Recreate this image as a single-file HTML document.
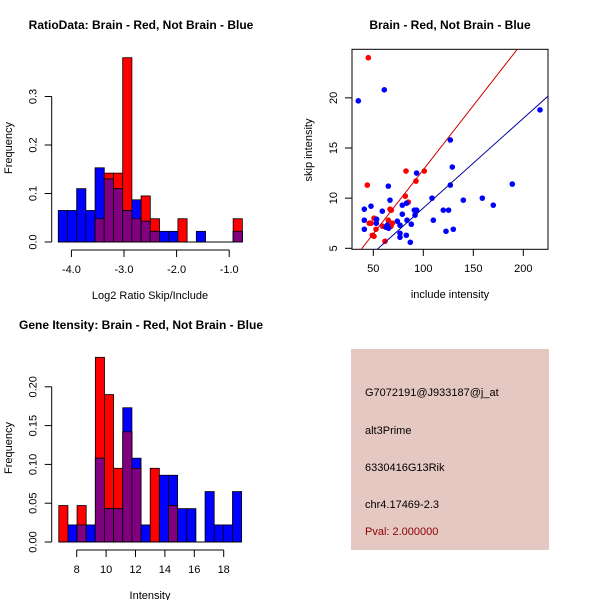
<!DOCTYPE html>
<html><head><meta charset="utf-8"><style>
body{margin:0;background:#fff}
svg{display:block;font-family:"Liberation Sans",sans-serif}
</style></head><body>
<svg id="c" width="600" height="600" viewBox="0 0 600 600" xmlns="http://www.w3.org/2000/svg">
<rect width="600" height="600" fill="#fff"/>
<g id="p1"></g>
<g id="p2"></g>
<g id="p3"></g>
<g>
<rect x="351" y="349" width="198" height="201" fill="#e6c8c2"/>
<text x="365" y="396" font-size="11" fill="#000">G7072191@J933187@j_at</text>
<text x="365" y="434" font-size="11" fill="#000">alt3Prime</text>
<text x="365" y="471" font-size="11" fill="#000">6330416G13Rik</text>
<text x="365" y="508" font-size="11" fill="#000">chr4.17469-2.3</text>
<text x="365" y="535" font-size="11" fill="#8b0000">Pval: 2.000000</text>
</g>
</svg>
<script>
// Ratio histogram data
const ratioBinStart = -4.25;
const ratioBinWidth = 0.175;
const ratioRed = [0,0,0,0,0.048,0.142,0.142,0.38,0.048,0.095,0.048,0,0,0.048,0,0,0,0,0,0.048];
const ratioBlue = [0.065,0.065,0.11,0.065,0.153,0.13,0.11,0.065,0.087,0.043,0.022,0.022,0.022,0,0,0.022,0,0,0,0.022];
const ratioXTicks = [-4.0,-3.0,-2.0,-1.0];
const ratioXTickLabels = ["-4.0","-3.0","-2.0","-1.0"];
const ratioYTicks = [0,0.1,0.2,0.3];
const ratioYTickLabels = ["0.0","0.1","0.2","0.3"];
// Intensity histogram data
const intBinStart = 6.78;
const intBinWidth = 0.622;
const intRed = [0.047,0,0.047,0,0.238,0.19,0.095,0.142,0.095,0,0.095,0,0.047,0,0,0,0,0,0,0];
const intBlue = [0,0.022,0.022,0.022,0.108,0.043,0.043,0.173,0.108,0.022,0,0.086,0.086,0.043,0.043,0,0.065,0.022,0.022,0.065];
const intXTicks = [8,10,12,14,16,18];
const intXTickLabels = ["8","10","12","14","16","18"];
const intYTicks = [0,0.05,0.1,0.15,0.2];
const intYTickLabels = ["0.00","0.05","0.10","0.15","0.20"];
// Scatter data
const redX = [45,44,82.7,101,82,66.7,68,50.7,46,47.7,52.7,49,50.7,59.3,65,69,67.7,61.7,85,92.7];
const redY = [24.0,11.3,12.7,12.7,10.2,8.9,8.8,8.0,7.5,7.5,6.9,6.3,6.2,7.2,7.8,7.5,7.2,5.7,9.6,11.7];
const blueX = [35,61,127,93.3,129,127,65,189,108.7,159,140,170,66.7,41,47.7,59,79,83.3,91,93.3,91.7,79,120,125.3,110,41,53.3,53,64,65.3,74,76.7,83.7,88,41,122.7,130,76.7,76.7,83,87,216.7,62.7];
const blueY = [19.7,20.8,15.8,12.5,13.1,11.3,11.2,11.4,10.0,10.0,9.8,9.3,9.8,8.9,9.2,8.7,9.3,9.5,8.8,8.8,8.3,8.4,8.8,8.8,7.8,7.8,7.9,7.5,7.3,7.0,7.7,7.3,7.8,7.4,6.9,6.7,6.9,6.5,6.1,6.3,5.6,18.8,7.1];
const redFit = [0.055,0.1278];
const blueFit = [0.08,0.0894];
const scXTicks = [50,100,150,200];
const scXTickLabels = ["50","100","150","200"];
const scYTicks = [5,10,15,20];
const scYTickLabels = ["5","10","15","20"];

const NS="http://www.w3.org/2000/svg";
function mk(parent,tag,attrs,text){const e=document.createElementNS(NS,tag);for(const k in attrs)e.setAttribute(k,attrs[k]);if(text!==undefined)e.textContent=text;parent.appendChild(e);return e;}

function hist(g,o){
  const sx=v=>o.x0+(v-o.v0)*o.kx, sy=v=>o.y0-v*o.ky;
  for(let i=0;i<o.red.length;i++){
    const a=o.bs+i*o.bw,b=a+o.bw,r=o.red[i],bl=o.blue[i];
    const x=sx(a),w=sx(b)-sx(a);
    if(r>0){const e=mk(g,'rect',{x:x,y:sy(r),width:w,height:sy(0)-sy(r),fill:'#ff0000',stroke:'#000','stroke-width':0.8});
      
      }
    if(bl>0){const e=mk(g,'rect',{x:x,y:sy(bl),width:w,height:sy(0)-sy(bl),fill:'#0000ff',stroke:'#000','stroke-width':0.8});
      
      }
    const m=Math.min(r,bl);
    if(m>0){const e=mk(g,'rect',{x:x,y:sy(m),width:w,height:sy(0)-sy(m),fill:'#800080',stroke:'#000','stroke-width':0.8});
      
      }
  }
  const l=mk(g,'line',{x1:sx(o.bs),x2:sx(o.bs+o.bw*o.red.length),y1:o.y0,y2:o.y0,stroke:'#000'});
  
  
  axes(g,o,sx,sy);
}
function axes(g,o,sx,sy){
  const xa=mk(g,'line',{x1:sx(o.xt[0]),x2:sx(o.xt[o.xt.length-1]),y1:o.xay,y2:o.xay,stroke:'#000'});
  
  
  o.xt.forEach((t,i)=>{mk(g,'line',{x1:sx(t),x2:sx(t),y1:o.xay,y2:o.xay+7,stroke:'#000'});
    const e=mk(g,'text',{x:sx(t),y:o.xay+23,'font-size':11,'text-anchor':'middle'},o.xl[i]);
    
    });
  const ya=mk(g,'line',{x1:o.yax,x2:o.yax,y1:sy(o.yt[0]),y2:sy(o.yt[o.yt.length-1]),stroke:'#000'});
  
  
  o.yt.forEach((t,i)=>{const y=sy(t);mk(g,'line',{x1:o.yax-7,x2:o.yax,y1:y,y2:y,stroke:'#000'});
    const lx=o.yax-15;
    const e=mk(g,'text',{x:lx,y:y,'font-size':11,'text-anchor':'middle',transform:`rotate(-90 ${lx} ${y})`},o.yl[i]);
    
    });
  const t=mk(g,'text',{x:o.tx,y:o.ty,'font-size':12,'font-weight':'bold','text-anchor':'middle'},o.title);
  
  
  const xt=mk(g,'text',{x:o.xlx,y:o.xay+49,'font-size':11,'text-anchor':'middle'},o.xlab);
  
  
  const yy=o.yly;
  const yt=mk(g,'text',{x:12,y:yy,'font-size':11,'text-anchor':'middle',transform:`rotate(-90 12 ${yy})`},o.ylab);
  
  
}
hist(document.getElementById('p1'),{red:ratioRed,blue:ratioBlue,bs:ratioBinStart,bw:ratioBinWidth,
  x0:124,v0:-3,kx:52.6,y0:242,ky:485,xt:ratioXTicks,xl:ratioXTickLabels,yt:ratioYTicks,yl:ratioYTickLabels,
  xay:250,yax:51.7,title:'RatioData: Brain - Red, Not Brain - Blue',tx:141,ty:29,xlab:'Log2 Ratio Skip/Include',xlx:150,ylab:'Frequency',yly:148});
hist(document.getElementById('p3'),{red:intRed,blue:intBlue,bs:intBinStart,bw:intBinWidth,
  x0:76.7,v0:8,kx:14.7,y0:542,ky:776,xt:intXTicks,xl:intXTickLabels,yt:intYTicks,yl:intYTickLabels,
  xay:550,yax:51.7,title:'Gene Itensity: Brain - Red, Not Brain - Blue',tx:141,ty:329,xlab:'Intensity',xlx:150,ylab:'Frequency',yly:448});

(function(){
  const g=document.getElementById('p2');
  const sx=v=>373.3+(v-50)*1.0, sy=v=>248.3-(v-5)*10.03;
  const cp=mk(g,'clipPath',{id:'clip'});mk(cp,'rect',{x:352,y:49.3,width:196,height:200});
  const box=mk(g,'rect',{x:352,y:49.3,width:196,height:200,fill:'none',stroke:'#000'});
  
  
  redX.forEach((x,i)=>{const c=mk(g,'circle',{cx:sx(x),cy:sy(redY[i]),r:2.8,fill:'#ff0000'});
    
    });
  blueX.forEach((x,i)=>{const c=mk(g,'circle',{cx:sx(x),cy:sy(blueY[i]),r:2.8,fill:'#0000ff'});
    
    });
  const fl=(f,col,name)=>{const l=mk(g,'line',{x1:sx(0),y1:sy(f[0]),x2:sx(300),y2:sy(f[0]+f[1]*300),stroke:col,'clip-path':'url(#clip)'});
    
    };
  fl(redFit,'#cc0000','fit-line-brain');
  fl(blueFit,'#000099','fit-line-not-brain');
  scXTicks.forEach((t,i)=>{mk(g,'line',{x1:sx(t),x2:sx(t),y1:249.3,y2:256,stroke:'#000'});
    const e=mk(g,'text',{x:sx(t),y:272,'font-size':11,'text-anchor':'middle'},scXTickLabels[i]);
    
    });
  scYTicks.forEach((t,i)=>{const y=sy(t);mk(g,'line',{x1:345,x2:352,y1:y,y2:y,stroke:'#000'});
    const e=mk(g,'text',{x:337,y:y,'font-size':11,'text-anchor':'middle',transform:`rotate(-90 337 ${y})`},scYTickLabels[i]);
    
    });
  const t=mk(g,'text',{x:450,y:29,'font-size':12,'font-weight':'bold','text-anchor':'middle'},'Brain - Red, Not Brain - Blue');
  
  
  const xt=mk(g,'text',{x:450,y:298,'font-size':11,'text-anchor':'middle'},'include intensity');
  
  
  const yt=mk(g,'text',{x:312,y:150,'font-size':11,'text-anchor':'middle',transform:'rotate(-90 312 150)'},'skip intensity');
  
  
})();
</script>
</body></html>
